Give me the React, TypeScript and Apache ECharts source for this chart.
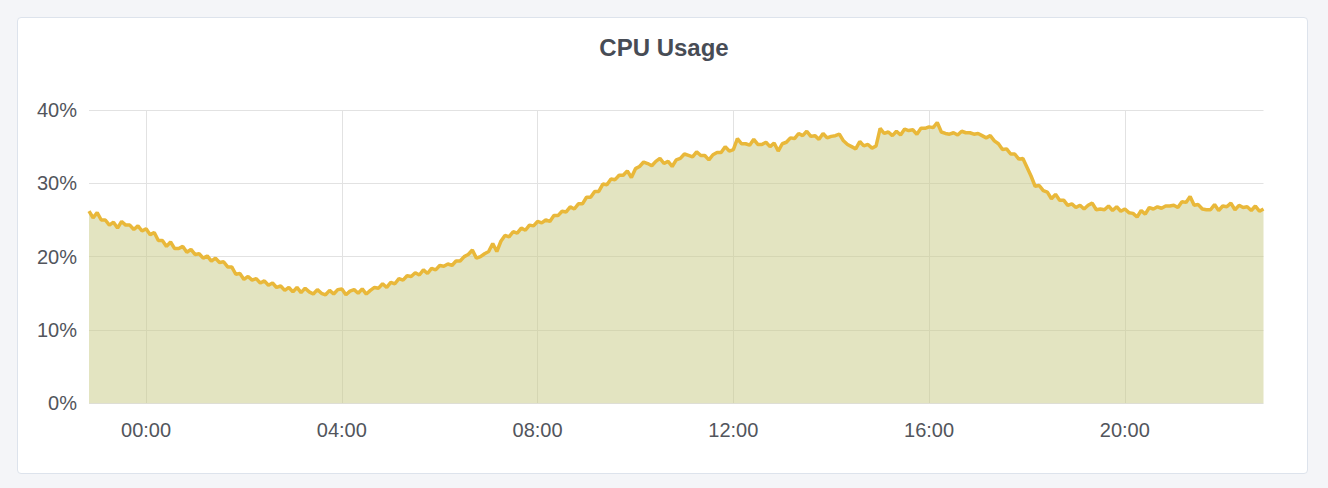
import { useEffect, useRef } from 'react';
import * as echarts from 'echarts';

// CPU usage in %, one sample every 5 minutes, 22:50 -> 22:50 next day
const startTime = '22:50';
const stepMinutes = 5;

const nightUsage = [
  26.2, 25.3, 26.0, 25.0, 25.0, 24.3, 24.7, 23.9, 24.8, 24.3,
  24.3, 23.7, 24.2, 23.5, 23.8, 23.0, 23.3, 22.2, 22.2, 21.4,
  22.0, 21.1, 21.1, 21.4, 20.6, 21.0, 20.3, 20.4, 19.8, 20.1,
  19.4, 19.8, 19.2, 19.3, 18.6, 18.6, 17.6, 17.7, 16.9, 17.3,
  16.8, 17.0, 16.4, 16.7, 16.1, 16.4, 15.8, 16.0, 15.4, 15.8,
  15.2, 15.8, 15.1, 15.7, 15.2, 14.9, 15.5, 15.0, 14.8, 15.4,
  14.9, 15.5, 15.6, 14.8, 15.3, 15.5, 15.0, 15.6, 14.9, 15.4,
  15.8, 15.7,
];

const morningUsage = [
  16.3, 15.8, 16.5, 16.3, 17.0, 16.8, 17.4, 17.3, 17.8, 17.5,
  18.2, 17.7, 18.4, 18.2, 18.8, 18.7, 19.0, 18.8, 19.4, 19.4,
  20.0, 20.3, 20.9, 19.8, 20.0, 20.4, 20.7, 21.8, 20.7, 22.1,
  22.9, 22.7, 23.4, 23.2, 23.9, 23.6, 24.3, 24.2, 24.8, 24.6,
  25.0, 24.8, 25.6, 25.6, 26.2, 26.1, 26.8, 26.5, 27.2, 27.2,
  28.1, 28.1, 28.9, 28.9, 29.9, 29.8, 30.6, 30.5, 31.1, 31.1,
  31.7, 30.8, 32.0, 32.3, 32.9, 32.7, 32.4, 33.0, 33.4, 32.7,
  33.0, 32.3,
];

const afternoonUsage = [
  33.2, 33.4, 34.0, 33.8, 33.6, 34.3, 33.8, 33.8, 33.2, 33.9,
  34.2, 34.2, 35.0, 34.4, 34.6, 36.1, 35.4, 35.4, 35.2, 36.0,
  35.3, 35.3, 35.6, 35.0, 35.5, 34.4, 35.4, 35.6, 36.2, 36.1,
  36.8, 36.5, 37.1, 36.4, 36.5, 36.0, 36.8, 36.2, 36.4, 36.5,
  36.7, 35.8, 35.3, 35.0, 34.7, 35.7, 35.1, 35.3, 34.8, 35.1,
  37.5, 36.8, 37.0, 36.5, 37.1, 36.6, 37.4, 37.2, 37.3, 36.7,
  37.5, 37.5, 37.7, 37.6, 38.3, 37.0, 36.8, 36.7, 36.9, 36.6,
  37.1, 36.9,
];

const eveningUsage = [
  36.9, 36.7, 36.8, 36.5, 36.2, 36.5, 35.8, 35.4, 34.6, 34.7,
  34.0, 34.0, 33.3, 33.4, 32.2, 31.0, 29.6, 29.7, 29.0, 28.8,
  27.9, 28.5, 27.7, 27.7, 27.0, 27.2, 26.7, 27.0, 26.5, 27.0,
  27.3, 26.4, 26.5, 26.4, 26.9, 26.3, 26.8, 26.2, 26.5, 26.0,
  25.9, 25.4, 26.3, 25.8, 26.7, 26.5, 26.8, 26.6, 26.9, 26.9,
  27.0, 26.7, 27.5, 27.4, 28.2, 27.0, 27.1, 26.5, 26.4, 26.4,
  27.1, 26.3, 26.9, 26.8, 27.3, 26.4, 27.0, 26.7, 26.8, 26.3,
  26.9, 26.2, 26.5,
];

const usage = [...nightUsage, ...morningUsage, ...afternoonUsage, ...eveningUsage];

// time labels for each sample
const pad = (n: number) => String(n).padStart(2, '0');
const [h0, m0] = startTime.split(':').map(Number);
const times = usage.map((_, i) => {
  const t = (h0 * 60 + m0 + i * stepMinutes) % 1440;
  return `${pad(Math.floor(t / 60))}:${pad(t % 60)}`;
});

const isMajor = (label: string) =>
  label.endsWith(':00') && Number(label.slice(0, 2)) % 4 === 0;

const FONT = '"Liberation Sans", Helvetica, Arial, sans-serif';

const CpuChart = () => {
  const chartRef = useRef<HTMLDivElement>(null);

  useEffect(() => {
    const myChart = echarts.init(chartRef.current, null, { renderer: 'svg' });

    myChart.setOption({
      animation: false,
      title: {
        text: 'CPU Usage',
        left: 'center',
        top: 30,
        textStyle: {
          fontFamily: FONT,
          fontSize: 24,
          fontWeight: 'bold',
          color: '#474c55',
        },
      },
      grid: { left: 89, right: 64.5, top: 110, bottom: 84.7 },
      xAxis: {
        type: 'category',
        data: times,
        boundaryGap: false,
        axisLine: { show: false },
        axisTick: { show: false },
        axisLabel: {
          interval: (_: number, v: string) => isMajor(v),
          margin: 17,
          fontFamily: FONT,
          fontSize: 20,
          color: '#52555c',
        },
        splitLine: {
          show: true,
          interval: (_: number, v: string) => isMajor(v),
          lineStyle: { color: '#e2e2e2', width: 1 },
        },
      },
      yAxis: {
        type: 'value',
        min: 0,
        max: 40,
        interval: 10,
        axisLine: { show: false },
        axisTick: { show: false },
        axisLabel: {
          formatter: '{value}%',
          margin: 12,
          fontFamily: FONT,
          fontSize: 20,
          color: '#52555c',
        },
        splitLine: { lineStyle: { color: '#e2e2e2', width: 1 } },
      },
      series: [
        {
          type: 'line',
          data: usage,
          showSymbol: false,
          lineStyle: { color: '#e9b83a', width: 3.5 },
          itemStyle: { color: '#e9b83a' },
          areaStyle: { color: 'rgba(199,201,131,0.5)', opacity: 1 },
        },
      ],
    });

    return () => {
      myChart.dispose();
    };
  }, []);

  return <div ref={chartRef} style={{ position: 'absolute', left: 0, top: 0, width: 1328, height: 488 }} />;
};

export default function App() {
  return (
    <div style={{ position: 'fixed', inset: 0, background: '#f4f5f8' }}>
      <div
        style={{
          position: 'absolute',
          left: 17,
          top: 17,
          width: 1291,
          height: 457,
          boxSizing: 'border-box',
          background: '#ffffff',
          border: '1px solid #dde3ec',
          borderRadius: 4,
        }}
      />
      <CpuChart />
    </div>
  );
}
